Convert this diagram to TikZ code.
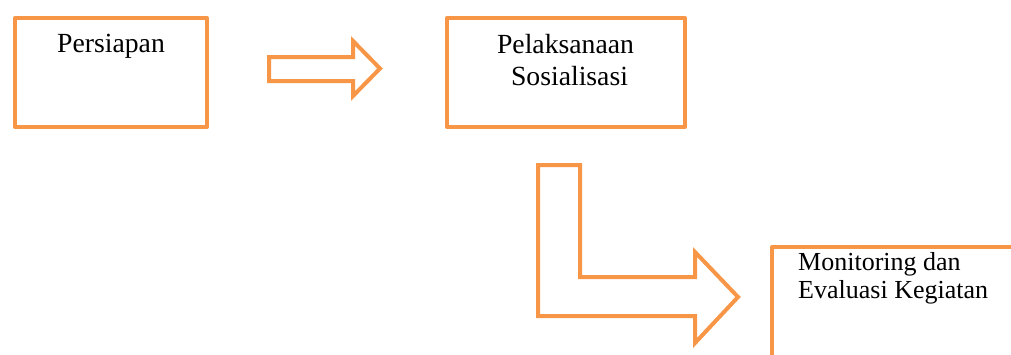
\documentclass[tikz,border=0pt]{standalone}
\usepackage{fontspec}
\setmainfont{Liberation Serif}
\definecolor{acc}{RGB}{247,150,70}
\begin{document}
\begin{tikzpicture}[x=1pt,y=-1pt,
  stepbox/.style={draw=acc,line width=4pt,line join=round,inner sep=0pt,fill=none},
  blockarrow/.style={draw=acc,line width=4pt,line join=miter},
  bigtxt/.style={font=\fontsize{27.7}{32}\selectfont,inner sep=0pt,anchor=base},
  smalltxt/.style={font=\fontsize{26}{28}\selectfont,inner sep=0pt,anchor=base west}]
\useasboundingbox (0,0) rectangle (1011,354);
\clip (0,0) rectangle (1011,354);
% boxes
\node[stepbox,minimum width=192pt,minimum height=109pt] (b1) at (111,72.5) {};
\node[stepbox,minimum width=238pt,minimum height=109pt] (b2) at (566,72.5) {};
\node[stepbox,minimum width=400pt,minimum height=200pt,anchor=north west] (b3) at (770,245) {};
% texts
\node[bigtxt] (t1) at (111,52) {Persiapan};
\node[bigtxt] (t2a) at (565.5,53) {Pelaksanaan};
\node[bigtxt] (t2b) at (569.5,85) {Sosialisasi};
\node[smalltxt] (t3a) at (798,270) {Monitoring dan};
\node[smalltxt] (t3b) at (798,298) {Evaluasi Kegiatan};
% arrow 1
\draw[blockarrow] (269,57) -- (353,57) -- (353,41) -- (380,68.5) -- (353,96) -- (353,81) -- (269,81) -- cycle;
% L arrow
\draw[blockarrow] (538,165) -- (580,165) -- (580,277) -- (695,277) -- (695,252) -- (738,297) -- (695,343) -- (695,316) -- (538,316) -- cycle;
\end{tikzpicture}
\end{document}
